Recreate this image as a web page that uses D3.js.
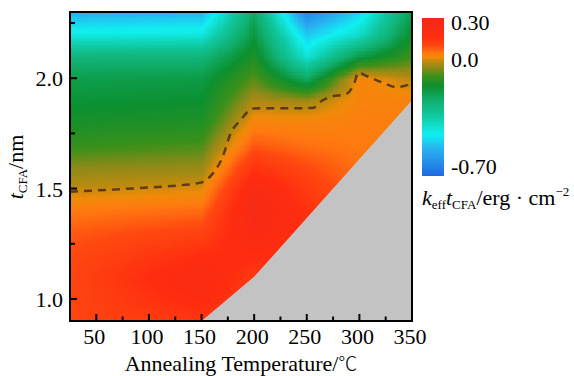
<!DOCTYPE html>
<html><head><meta charset="utf-8">
<script src="https://cdn.jsdelivr.net/npm/d3@7"></script>
<style>
body{margin:0;background:#fff}
svg{display:block}
text{font-family:"Liberation Serif","Times New Roman",serif;fill:#000}
</style>
</head><body>
<svg id="chart" width="574" height="376"></svg>
<script>
// ---- data ----
const temps = [25, 150, 200, 250, 300, 350];            // annealing temperature columns (°C)
const thick = [0.9,1.0,1.1,1.2,1.3,1.4,1.5,1.6,1.7,1.8,1.9,2.0,2.1,2.2,2.3]; // t_CFA rows (nm)
const k25  = [0.13,0.13,0.13,0.12,0.10,0.06,-0.005,-0.05,-0.11,-0.15,-0.18,-0.21,-0.28,-0.46,-0.58];
const k150 = [0.17,0.22,0.25,0.20,0.14,0.08,0.015,-0.04,-0.09,-0.14,-0.17,-0.20,-0.28,-0.45,-0.57];
const k200 = [0.15,0.15,0.16,0.21,0.26,0.29,0.26,0.18,0.10,0.04,-0.02,-0.08,-0.14,-0.19,-0.24];
const k250 = [0.18,0.18,0.18,0.18,0.18,0.19,0.16,0.12,0.07,0.04,-0.03,-0.24,-0.44,-0.54,-0.68];
const k300 = [0.08,0.08,0.08,0.08,0.08,0.08,0.08,0.07,0.06,0.05,0.04,0.04,-0.20,-0.42,-0.52];
const k350 = [0.05,0.05,0.05,0.05,0.05,0.05,0.05,0.05,0.05,0.05,0.045,-0.01,-0.10,-0.16,-0.21];
// region without data (gray)
const noDataT  = [150, 200, 350, 350];
const noDataTh = [0.9, 1.1, 1.9, 0.9];
// zero contour (dashed)
const zeroT  = [25, 60, 100, 130, 149, 161, 170, 177.6, 187, 199, 230, 256, 262, 271, 288, 295, 299, 306, 322, 335, 350];
const zeroTh = [1.486,1.494,1.505,1.515,1.527,1.57,1.643,1.75,1.81,1.863,1.864,1.865,1.89,1.913,1.93,1.976,2.026,2.012,1.98,1.96,1.975];
// axes ticks
const xMajor = [50,100,150,200,250,300,350];
const xMinor = [75,125,175,225,275,325];
const yMajor = [1.0,1.5,2.0];
const yMinor = [1.25,1.75,2.25];
const cbTicks = [0.30, 0.0, -0.70];
const cbTickLabels = ["0.30","0.0","-0.70"];
// colormap
const cStops  = [-0.76,-0.58,-0.48,-0.36,-0.26,-0.17,-0.10,-0.05,-0.01,0.025,0.06,0.12,0.20,0.345];
const cColors = ["#2068e0","#28b0f0","#10f0f0","#10c8a0","#10b070","#0c9030","#3a901a","#8a8a18","#b88a10","#f08a08","#ff7a10","#ff4810","#ff2d10","#f02818"];

// ---- setup ----
const svg = d3.select("#chart");
const x = d3.scaleLinear().domain([25, 350]).range([70, 412]);
const y = d3.scaleLinear().domain([0.9, 2.3]).range([321, 12]);
const color = d3.scaleLinear().domain(cStops).range(cColors).interpolate(d3.interpolateRgb).clamp(true);
const cbY = d3.scaleLinear().domain([-0.76, -0.70, 0.0, 0.30, 0.345]).range([175, 167, 60, 23, 18]);

const grid = [k25, k150, k200, k250, k300, k350];
function field(T, th) {
  let j = Math.max(0, Math.min(temps.length - 2, d3.bisectRight(temps, T) - 1));
  let i = Math.max(0, Math.min(thick.length - 2, d3.bisectRight(thick, th) - 1));
  const u = Math.max(0, Math.min(1, (T - temps[j]) / (temps[j+1] - temps[j])));
  const v = Math.max(0, Math.min(1, (th - thick[i]) / (thick[i+1] - thick[i])));
  const a = grid[j][i], b = grid[j+1][i], c = grid[j][i+1], d = grid[j+1][i+1];
  return a*(1-u)*(1-v) + b*u*(1-v) + c*(1-u)*v + d*u*v;
}
const noData = noDataT.map((t, i) => [t, noDataTh[i]]);
const boundT = noDataT.slice(0, 3), boundTh = noDataTh.slice(0, 3);
const boundary = d3.scaleLinear().domain(boundT).range(boundTh).clamp(true);

svg.append("defs").append("clipPath").attr("id", "plotclip")
  .append("rect").attr("x", x(25)).attr("y", y(2.3)).attr("width", x(350) - x(25)).attr("height", y(0.9) - y(2.3));

const plot = svg.append("g").attr("clip-path", "url(#plotclip)");

// cells
const dT = 2, dTh = 0.01;
const cells = [];
const nT = Math.round((350 - 25) / dT), nTh = Math.round((2.3 - 0.9) / dTh);
for (let a = 0; a <= nT; a++) {
  const T = 25 + a * dT;
  for (let b = 0; b < nTh; b++) {
    const th = 0.9 + b * dTh;
    if (T > 150 && th + dTh < boundary(T) - 0.005) continue;
    cells.push({T, th, v: field(T + dT/2, th + dTh/2)});
  }
}
plot.append("g").attr("shape-rendering", "crispEdges")
  .selectAll("rect").data(cells).join("rect")
  .attr("x", d => x(d.T))
  .attr("y", d => y(d.th + dTh))
  .attr("width", d => x(d.T + dT) - x(d.T) + 0.7)
  .attr("height", d => y(d.th) - y(d.th + dTh) + 0.7)
  .attr("fill", d => color(d.v));

// gray no-data region
plot.append("path").datum(noData)
  .attr("d", d3.line().x(d => x(d[0])).y(d => y(d[1])))
  .attr("fill", "#c3c3c3");

// dashed zero contour
const zeroPts = zeroT.map((t, i) => [t, zeroTh[i]]);
plot.append("path").datum(zeroPts)
  .attr("d", d3.line().x(d => x(d[0])).y(d => y(d[1])).curve(d3.curveMonotoneX))
  .attr("fill", "none").attr("stroke", "#4a2e1a").attr("stroke-opacity", 0.85)
  .attr("stroke-width", 2.5).attr("stroke-dasharray", "8,6");

// frame
svg.append("rect").attr("x", x(25)).attr("y", y(2.3)).attr("width", x(350) - x(25)).attr("height", y(0.9) - y(2.3))
  .attr("fill", "none").attr("stroke", "#000").attr("stroke-width", 2);

// ticks (inward)
const tk = svg.append("g").attr("stroke", "#000").attr("stroke-width", 2);
tk.selectAll(".xM").data(xMajor).join("line").attr("x1", d => x(d)).attr("x2", d => x(d)).attr("y1", y(0.9)).attr("y2", y(0.9) - 7);
tk.selectAll(".xm").data(xMinor).join("line").attr("x1", d => x(d)).attr("x2", d => x(d)).attr("y1", y(0.9)).attr("y2", y(0.9) - 4.5);
tk.selectAll(".yM").data(yMajor).join("line").attr("y1", d => y(d)).attr("y2", d => y(d)).attr("x1", x(25)).attr("x2", x(25) + 7);
tk.selectAll(".ym").data(yMinor).join("line").attr("y1", d => y(d)).attr("y2", d => y(d)).attr("x1", x(25)).attr("x2", x(25) + 5);

// tick labels
svg.append("g").selectAll("text").data(xMajor).join("text")
  .attr("x", d => x(d) - 2).attr("y", 344).attr("text-anchor", "middle")
  .style("font-size", "22px").text(d => d);
svg.append("g").selectAll("text").data(yMajor).join("text")
  .attr("x", 63).attr("y", d => y(d) + 8).attr("text-anchor", "end")
  .style("font-size", "22px").text(d => d3.format(".1f")(d));

// axis titles
const xt = svg.append("text").attr("x", 241).attr("y", 371).attr("text-anchor", "middle").style("font-size", "22px");
xt.append("tspan").text("Annealing Temperature/");
xt.append("tspan").style("font-family", "'Noto Sans CJK SC'").style("font-weight", 300).style("font-size", "19px").text("℃");
const yt = svg.append("text").attr("transform", "translate(23,167) rotate(-90)").attr("text-anchor", "middle").style("font-size", "22px");
yt.append("tspan").style("font-style", "italic").text("t");
yt.append("tspan").attr("dy", 4).style("font-size", "13px").text("CFA");
yt.append("tspan").attr("dy", -4).text("/nm");

// colorbar
const cbVals = d3.range(-0.76, 0.345, 0.004);
svg.append("g").attr("shape-rendering", "crispEdges").selectAll("rect").data(cbVals).join("rect")
  .attr("x", 422).attr("width", 22)
  .attr("y", d => cbY(d + 0.004))
  .attr("height", d => cbY(d) - cbY(d + 0.004) + 0.8)
  .attr("fill", d => color(d + 0.002));
svg.append("g").selectAll("text").data(cbTicks).join("text")
  .attr("x", 451).attr("y", d => cbY(d) + 7)
  .style("font-size", "22px").text((d, i) => cbTickLabels[i]);

const ct = svg.append("text").attr("x", 422).attr("y", 205).style("font-size", "22px");
ct.append("tspan").style("font-style", "italic").text("k");
ct.append("tspan").attr("dy", 4).style("font-size", "13px").text("eff");
ct.append("tspan").attr("dy", -4).style("font-style", "italic").text("t");
ct.append("tspan").attr("dy", 4).style("font-size", "13px").text("CFA");
ct.append("tspan").attr("dy", -4).text("/erg · cm");
ct.append("tspan").attr("dy", -9).style("font-size", "13px").text("−2");
</script>
</body></html>
